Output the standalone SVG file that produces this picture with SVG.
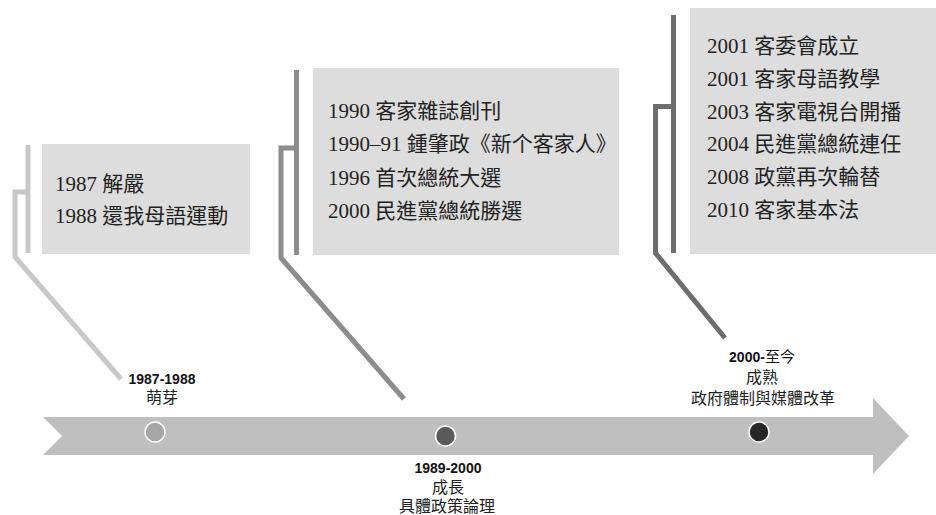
<svg xmlns="http://www.w3.org/2000/svg" width="936" height="515" viewBox="0 0 936 515">
<style>
.box{fill:#dddddd}
.bt{font-family:"Liberation Serif","Noto Sans CJK TC",serif;font-size:21px;fill:#222}
.yr{font-family:"Liberation Sans","Noto Sans CJK TC",sans-serif;font-size:14px;font-weight:bold;fill:#111;text-anchor:middle}
.lb{font-family:"Liberation Serif","Noto Sans CJK TC",serif;font-size:16px;fill:#222;text-anchor:middle}
.cn{fill:none;stroke-width:5;stroke-linejoin:miter;stroke-linecap:butt}
.dot{stroke:#ffffff;stroke-width:1.5}
</style>
<rect width="936" height="515" fill="#ffffff"/>
<g id="timeline">
<polygon points="43,417 873,417 873,398 909,436 873,474 873,455 43,455 62,436" fill="#bfbfbf"/>
</g>
<g id="connectors">
<path class="cn" stroke="#c8c8c8" d="M28 145 V253"/>
<path class="cn" stroke="#c8c8c8" d="M28 192 H15 V257 L121 379"/>
<path class="cn" stroke="#8c8c8c" d="M296.5 70 V255"/>
<path class="cn" stroke="#8c8c8c" d="M296.5 148 H281 V258 L404 399"/>
<path class="cn" stroke="#6d6d6f" d="M673.5 15 V253"/>
<path class="cn" stroke="#6d6d6f" d="M673.5 106.5 H655.5 V253 L725 338"/>
</g>
<g id="box1">
<rect class="box" x="42" y="144" width="208" height="110"/>
<text class="bt" x="55" y="191">1987 解嚴</text>
<text class="bt" x="55" y="223">1988 還我母語運動</text>
</g>
<g id="box2">
<rect class="box" x="313" y="68" width="306" height="187"/>
<text class="bt" x="328" y="118">1990 客家雜誌創刊</text>
<text class="bt" x="328" y="151">1990–91 鍾肇政《新个客家人》</text>
<text class="bt" x="328" y="185">1996 首次總統大選</text>
<text class="bt" x="328" y="218">2000 民進黨總統勝選</text>
</g>
<g id="box3">
<rect class="box" x="690" y="8" width="246" height="246"/>
<text class="bt" x="707" y="53">2001 客委會成立</text>
<text class="bt" x="707" y="86">2001 客家母語教學</text>
<text class="bt" x="707" y="119">2003 客家電視台開播</text>
<text class="bt" x="707" y="151">2004 民進黨總統連任</text>
<text class="bt" x="707" y="184">2008 政黨再次輪替</text>
<text class="bt" x="707" y="217">2010 客家基本法</text>
</g>
<g id="stage1">
<circle class="dot" cx="155" cy="432" r="10" fill="#a6a6a6"/>
<text class="yr" x="162" y="384">1987-1988</text>
<text class="lb" x="162" y="403">萌芽</text>
</g>
<g id="stage2">
<circle class="dot" cx="445.5" cy="436" r="10" fill="#5a5a5a"/>
<text class="yr" x="448" y="473">1989-2000</text>
<text class="lb" x="448" y="493">成長</text>
<text class="lb" x="447" y="512">具體政策論理</text>
</g>
<g id="stage3">
<circle class="dot" cx="759" cy="432" r="10" fill="#262626"/>
<text class="yr" x="762" y="362">2000-<tspan style="font-weight:normal;font-family:'Liberation Serif','Noto Sans CJK TC',serif;font-size:15px">至今</tspan></text>
<text class="lb" x="762" y="383">成熟</text>
<text class="lb" x="763" y="404">政府體制與媒體改革</text>
</g>
</svg>
